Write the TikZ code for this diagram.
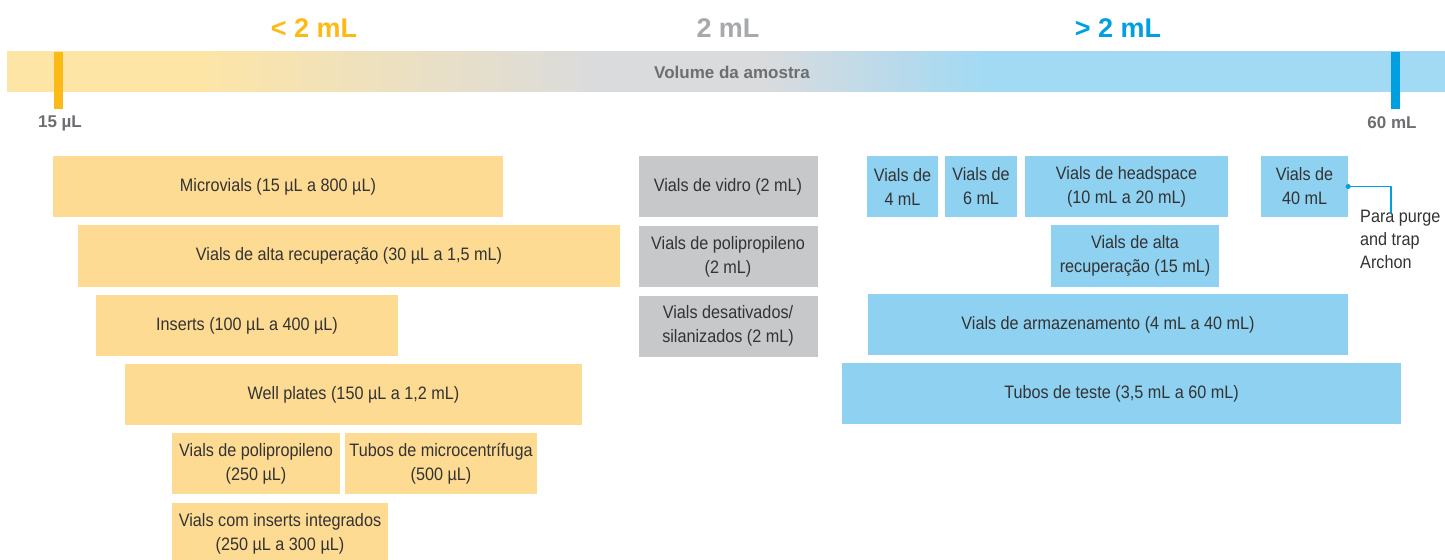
\documentclass[tikz,border=0pt]{standalone}
\usepackage{fontspec}
\setmainfont{Liberation Sans}
\newfontfamily\estreita[FakeStretch=0.9]{Liberation Sans}
\definecolor{amarelo}{HTML}{FDDB93}
\definecolor{cinza}{HTML}{C7C8CA}
\definecolor{azul}{HTML}{8FD1F1}
\definecolor{faixaam}{HTML}{FDE5A6}
\definecolor{faixacz}{HTML}{DADBDD}
\definecolor{faixaaz}{HTML}{A3DAF3}
\definecolor{ouro}{HTML}{FBBA16}
\definecolor{azulforte}{HTML}{00A0E0}
\definecolor{cinzatit}{HTML}{A7A9AC}
\definecolor{cinzaesc}{HTML}{6D6E71}
\definecolor{texto}{HTML}{333333}
\begin{document}
\begin{tikzpicture}[x=1bp, y=-1bp, line join=round, line cap=round,
  caixa/.style={inner sep=0pt, minimum height=61bp, align=center, text=texto, font=\estreita\fontsize{18bp}{24bp}\selectfont},
  amar/.style={caixa, fill=amarelo},
  cinz/.style={caixa, fill=cinza},
  azl/.style={caixa, fill=azul},
  titulo/.style={font=\fontsize{27bp}{30bp}\selectfont\bfseries},
  rotulo/.style={font=\fontsize{17bp}{20bp}\selectfont\bfseries, text=cinzaesc}]
\useasboundingbox (0,0) rectangle (1445,560);
			% Faixa
			\begin{scope}
			\clip (7,52) rectangle (1445,92);
			\fill[faixaam] (0,40) rectangle (201,104);
			\shade[left color=faixaam, right color=faixacz] (200,40) rectangle (601,104);
			\fill[faixacz] (600,40) rectangle (761,104);
			\shade[left color=faixacz, right color=faixaaz] (760,40) rectangle (981,104);
			\fill[faixaaz] (980,40) rectangle (1445,104);
			\end{scope}
			\fill[ouro] (54,52) rectangle (63,109); \fill[azulforte] (1391,52) rectangle (1400,109);
			\node[rotulo] (volume) at (732,72) {Volume da amostra};
			\node[rotulo] (min) at (60,123) {15 µL};
			\node[rotulo] (max) at (1392,123) {60 mL};
			% Titulos
			\node[titulo, text=ouro] (menor) at (314,28) {< 2 mL};
			\node[titulo, text=cinzatit] (igual) at (728,28) {2 mL};
			\node[titulo, text=azulforte] (maior) at (1118,28) {> 2 mL};
			% Coluna 1
			\node[amar, minimum width=450bp] (microvials) at (278,186.5) {Microvials (15 µL a 800 µL)};
			\node[amar, minimum width=542bp] (altarec) at (349,256) {Vials de alta recuperação (30 µL a 1,5 mL)};
			\node[amar, minimum width=302bp] (inserts) at (247,325.5) {Inserts (100 µL a 400 µL)};
			\node[amar, minimum width=457bp] (wellplates) at (353.5,394.5) {Well plates (150 µL a 1,2 mL)};
			\node[amar, minimum width=168bp] (polip) at (256,463.5) {Vials de polipropileno\\(250 µL)};
			\node[amar, minimum width=192bp] (microcent) at (441,463.5) {Tubos de microcentrífuga\\(500 µL)};
			\node[amar, minimum width=216bp, minimum height=62bp] (integrados) at (280,534) {Vials com inserts integrados\\(250 µL a 300 µL)};
			% Coluna 2
			\node[cinz, minimum width=179bp] (vidro) at (728,187) {Vials de vidro (2 mL)};
			\node[cinz, minimum width=179bp] (polipdois) at (728,256.5) {Vials de polipropileno\\(2 mL)};
			\node[cinz, minimum width=179bp] (desativados) at (728,326) {Vials desativados/\\silanizados (2 mL)};
			% Coluna 3
			\node[azl, minimum width=71bp] (quatro) at (902.5,186.5) {Vials de\\4 mL};
			\node[azl, minimum width=72bp] (seis) at (981,186.5) {Vials de\\6 mL};
			\node[azl, minimum width=203bp] (headspace) at (1126.5,186.5) {Vials de headspace\\(10 mL a 20 mL)};
			\node[azl, minimum width=87bp] (quarenta) at (1304.5,186.5) {Vials de\\40 mL};
			\node[azl, minimum width=168bp] (altarecq) at (1135,256) {Vials de alta\\recuperação (15 mL)};
			\node[azl, minimum width=480bp] (armaz) at (1108,324.5) {Vials de armazenamento (4 mL a 40 mL)};
			\node[azl, minimum width=559bp] (tubos) at (1121.5,393.5) {Tubos de teste (3,5 mL a 60 mL)};
			% Nota
			\node[anchor=north west, inner sep=0pt, align=left, text=texto, font=\estreita\fontsize{18bp}{23bp}\selectfont] (archon) at (1360,210) {Para purge\\and trap\\Archon};
			\coordinate (archontopo) at (1391,213);
			\draw[azulforte, line width=1.2bp] (quarenta.east) -| (archontopo);
			\fill[azulforte] (quarenta.east) circle (2.5);
		\end{tikzpicture}
\end{document}
